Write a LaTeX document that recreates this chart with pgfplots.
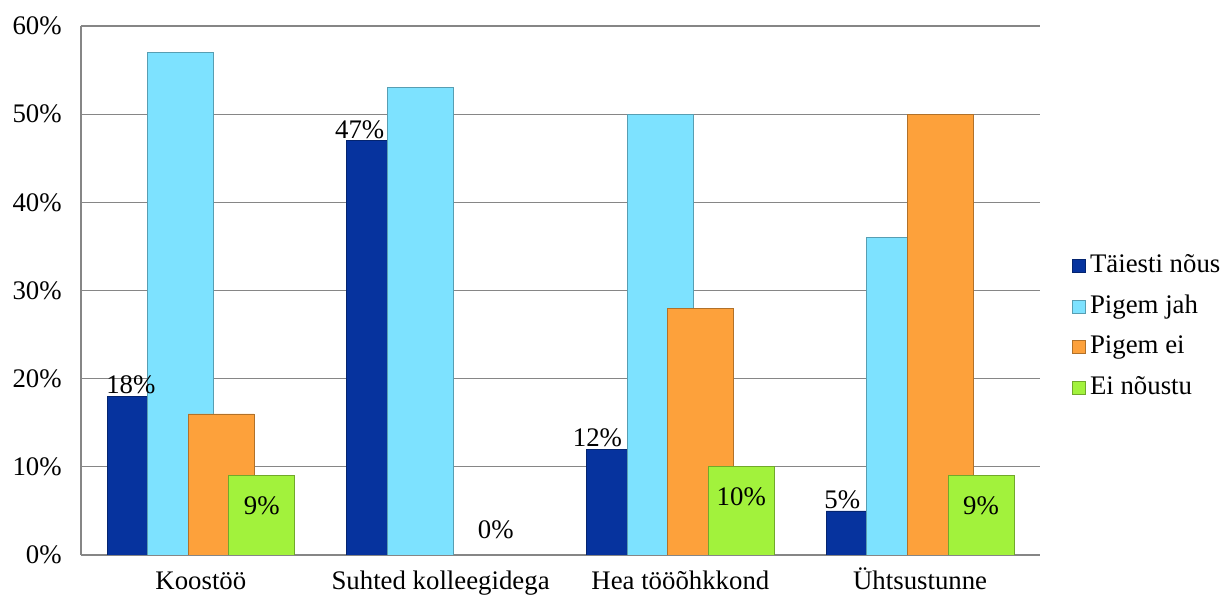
\documentclass[border=0pt]{standalone}
\usepackage{pgfplots}
\pgfplotsset{compat=1.18}
\usepackage{fontspec}
\setmainfont{Liberation Serif}
\definecolor{cA}{HTML}{06339E}
\definecolor{cB}{HTML}{7DE2FF}
\definecolor{cC}{HTML}{FDA13B}
\definecolor{cD}{HTML}{A2F23C}
\definecolor{gridc}{HTML}{868686}
\pgfplotsset{
  mybar/.style={ybar, bar width=0.275, fill=#1, draw=#1!70!black, line width=0.4pt,
    legend image code/.code={\draw[fill=#1, draw=#1!70!black, line width=0.4pt] (0pt,-3.3pt) rectangle (6.6pt,3.3pt);}},
}
\begin{document}
\fontsize{13.4pt}{16pt}\selectfont
\begin{tikzpicture}
\useasboundingbox (-40.5pt,-21.5pt) rectangle (571.5pt,277.5pt);
\begin{axis}[
  at={(0,0)}, anchor=south west,
  scale only axis, width=479.5pt, height=264.5pt,
  xmin=-0.5, xmax=3.5, ymin=0, ymax=60,
  xtick={0,1,2,3},
  xticklabels={Koostöö, Suhted kolleegidega, Hea tööõhkkond, Ühtsustunne},
  ytick={0,10,20,30,40,50,60},
  yticklabel={\pgfmathprintnumber{\tick}\%},
  ymajorgrids, grid style={gridc, line width=0.65pt},
  axis x line=bottom, axis y line=left,
  axis line style={gridc, line width=0.65pt, -},
  major tick length=0pt,
  /pgf/number format/assume math mode=true,
  tick label style={font=\fontsize{13.4pt}{16pt}\selectfont, text=black},
  yticklabel style={xshift=-5pt},
  xticklabel style={anchor=base, yshift=-17.5pt},
  legend style={at={(1.033,0.431)}, anchor=west, draw=none, fill=none,
    font=\fontsize{13.4pt}{16pt}\selectfont, inner sep=0pt, row sep=2.8pt,
    nodes={text height=10pt, text depth=3.5pt, inner sep=2pt}},
  legend cell align=left,
  every node near coord/.append style={font=\fontsize{13.4pt}{16pt}\selectfont, text=black},
]
\addplot[mybar=cA, bar shift=-0.254]
  coordinates {(0,18) (1,47) (2,12) (3,5)};
\addlegendentry{Täiesti nõus}
\addplot[mybar=cB, bar shift=-0.0848]
  coordinates {(0,57) (1,53) (2,50) (3,36)};
\addlegendentry{Pigem jah}
\addplot[mybar=cC, bar shift=0.0848]
  coordinates {(0,16) (2,28) (3,50)};
\addlegendentry{Pigem ei}
\addplot[mybar=cD, bar shift=0.254]
  coordinates {(0,9) (2,10) (3,9)};
\addlegendentry{Ei nõustu}
% data labels of "Täiesti nõus"
\addplot[draw=none, mark=none, forget plot, nodes near coords, point meta=explicit symbolic,
  every node near coord/.append style={anchor=base, inner sep=0pt, yshift=1.2pt}]
  coordinates {(-0.292,18) [18\%] (0.6625,47) [47\%] (1.654,12) [12\%] (2.675,5) [5\%]};
% data labels of "Ei nõustu"
\addplot[draw=none, mark=none, forget plot, nodes near coords, point meta=explicit symbolic,
  every node near coord/.append style={anchor=center}]
  coordinates {(0.254,5.6) [9\%] (1.23,2.84) [0\%] (2.254,6.6) [10\%] (3.254,5.6) [9\%]};
\end{axis}
\end{tikzpicture}
\end{document}
